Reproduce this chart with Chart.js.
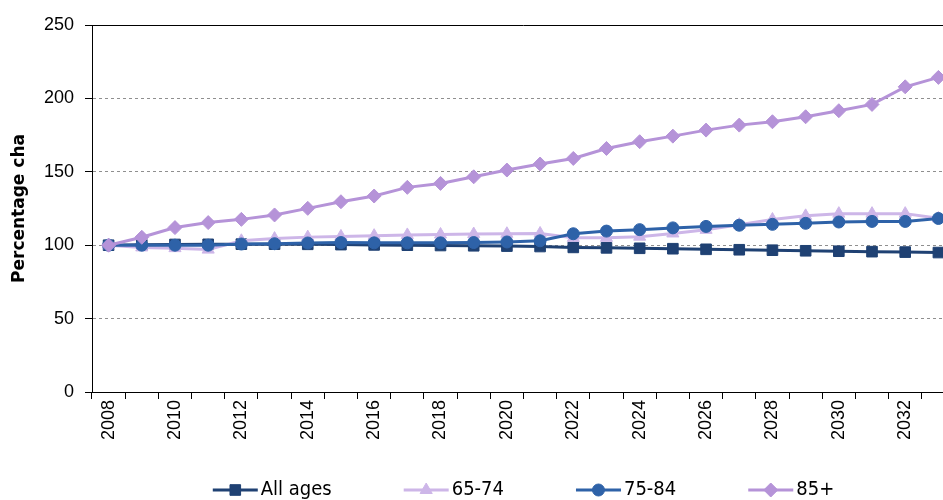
<!DOCTYPE html>
<html>
<head>
<meta charset="utf-8">
<script src="https://cdn.jsdelivr.net/npm/chart.js@4.4.1/dist/chart.umd.min.js"></script>
<style>
    html, body { margin: 0; padding: 0; background: #fff; overflow: hidden; }
    #wrap { position: absolute; left: 0; top: 0; width: 1000px; height: 500px; }
</style>
</head>
<body>
<div id="wrap"><canvas id="chart" width="1000" height="500"></canvas></div>
<script>
const years = ['2008', '2009', '2010', '2011', '2012', '2013', '2014', '2015', '2016', '2017', '2018', '2019', '2020',
    '2021', '2022', '2023', '2024', '2025', '2026', '2027', '2028', '2029', '2030', '2031', '2032', '2033'];

const allAges = [100, 100.3, 100.5, 100.6, 100.7, 100.7, 100.6, 100.4, 100.2, 100.0, 99.8, 99.6, 99.4,
    99.1, 98.5, 98.2, 97.9, 97.6, 97.2, 96.9, 96.6, 96.2, 95.9, 95.6, 95.3, 95.0];
const age65to74 = [100, 98.5, 98, 97, 103, 104.5, 105.5, 106, 106.5, 107, 107.3, 107.6, 107.8,
    108, 105, 105, 105.8, 108, 110.5, 114, 117.5, 120, 121.5, 121.5, 121.5, 118.3];
const age75to84 = [100, 100, 100, 100, 100.8, 101, 101.5, 101.8, 101.6, 101.6, 101.6, 101.8, 102.2,
    103, 107.8, 109.6, 110.6, 111.8, 112.8, 113.6, 114.2, 114.9, 115.8, 116.2, 116.2, 118.2];
const age85plus = [100, 105.4, 112, 115.4, 117.6, 120.6, 125.1, 129.6, 133.5, 139.4, 142.1, 146.6, 151.2,
    155.3, 159.1, 165.9, 170.5, 174.3, 178.4, 181.8, 184.1, 187.5, 191.6, 195.9, 207.9, 214.3];

const yTicks = [0, 50, 100, 150, 200, 250];

const seriesLabels = ['All ages', '65-74', '75-84', '85+'];
const seriesColors = ['#1f4173', '#cdb6e8', '#2e62a8', '#b593d8'];
const seriesMarkers = ['rect', 'triangle', 'circle', 'rectRot'];
const markerSizes = [7.5, 7, 6, 7];

const tickFont = { family: '"Liberation Sans", Arial, sans-serif', size: 18 };

function makeDataset(i, values) {
    return {
        label: seriesLabels[i],
        data: values,
        borderColor: seriesColors[i],
        backgroundColor: seriesColors[i],
        borderWidth: 3,
        pointStyle: seriesMarkers[i],
        pointRadius: markerSizes[i],
        pointBorderWidth: 1,
        pointBackgroundColor: seriesColors[i],
        pointBorderColor: seriesColors[i],
        tension: 0,
        // later series sit on top, as in the original
        order: 4 - i
    };
}

// solid frame line along the top of the plot
const topBorder = {
    id: 'topBorder',
    beforeDatasetsDraw(chart) {
        const { ctx, chartArea } = chart;
        ctx.save();
        ctx.strokeStyle = '#000';
        ctx.lineWidth = 1;
        ctx.beginPath();
        ctx.moveTo(chartArea.left, chartArea.top + 0.5);
        ctx.lineTo(chartArea.right, chartArea.top + 0.5);
        ctx.stroke();
        ctx.restore();
    }
};

// legend: line + marker swatch, centred under the plot
const lineLegend = {
    id: 'lineLegend',
    afterDraw(chart) {
        const { ctx, chartArea } = chart;
        const swatch = 45, textGap = 3, itemGap = 72;
        const y = chart.height - 10;
        ctx.save();
        ctx.font = '20px "DejaVu Sans Condensed", "DejaVu Sans", sans-serif';
        const items = chart.data.datasets.map(ds => ({ ds, w: swatch + textGap + ctx.measureText(ds.label).width }));
        const total = items.reduce((s, it) => s + it.w, 0) + itemGap * (items.length - 1);
        let x = (chartArea.left + chartArea.right) / 2 - total / 2;
        items.forEach(({ ds, w }) => {
            ctx.strokeStyle = ds.borderColor;
            ctx.fillStyle = ds.borderColor;
            ctx.lineWidth = 3;
            ctx.beginPath();
            ctx.moveTo(x, y);
            ctx.lineTo(x + swatch, y);
            ctx.stroke();
            ctx.lineWidth = 1;
            Chart.helpers.drawPoint(ctx, { pointStyle: ds.pointStyle, radius: ds.pointRadius, rotation: 0, borderWidth: 1 }, x + swatch / 2, y);
            ctx.fillStyle = '#000';
            ctx.textAlign = 'left';
            ctx.textBaseline = 'middle';
            ctx.fillText(ds.label, x + swatch + textGap, y);
            x += w + itemGap;
        });
        ctx.restore();
    }
};

new Chart(document.getElementById('chart').getContext('2d'), {
    type: 'line',
    data: {
        labels: years,
        datasets: [
            makeDataset(0, allAges),
            makeDataset(1, age65to74),
            makeDataset(2, age75to84),
            makeDataset(3, age85plus)
        ]
    },
    options: {
        responsive: false,
        animation: false,
        devicePixelRatio: 1,
        layout: { padding: { top: 25, right: 45, bottom: 0, left: 0 } },
        plugins: {
            legend: { display: false },
            tooltip: { enabled: false }
        },
        scales: {
            x: {
                type: 'category',
                offset: true,
                grid: { offset: true, drawOnChartArea: false, tickLength: 7, tickColor: '#000', tickBorderDash: [] },
                border: { color: '#000', width: 1 },
                ticks: {
                    autoSkip: false,
                    minRotation: 90,
                    maxRotation: 90,
                    padding: 1,
                    color: '#000',
                    font: tickFont,
                    callback: (v, i) => (i % 2 === 0 ? years[i] : '')
                },
                afterFit: scale => { scale.height = 108; }
            },
            y: {
                min: yTicks[0],
                max: yTicks[yTicks.length - 1],
                afterBuildTicks: scale => { scale.ticks = yTicks.map(v => ({ value: v })); },
                grid: {
                    color: c => (c.tick && (c.tick.value === 0 || c.tick.value === 250) ? 'rgba(0,0,0,0)' : '#8f8f8f'),
                    lineWidth: 1,
                    tickLength: 7,
                    tickColor: '#000',
                    tickBorderDash: []
                },
                border: { color: '#000', width: 1, dash: [3, 3] },
                ticks: { padding: 11, color: '#000', font: tickFont },
                title: {
                    display: true,
                    text: 'Percentage cha',
                    color: '#000',
                    padding: { top: 9, bottom: 0 },
                    font: { family: '"DejaVu Sans", sans-serif', size: 17, weight: 'bold' }
                },
                afterFit: scale => { scale.width = 92; }
            }
        }
    },
    plugins: [topBorder, lineLegend]
});
</script>
</body>
</html>
